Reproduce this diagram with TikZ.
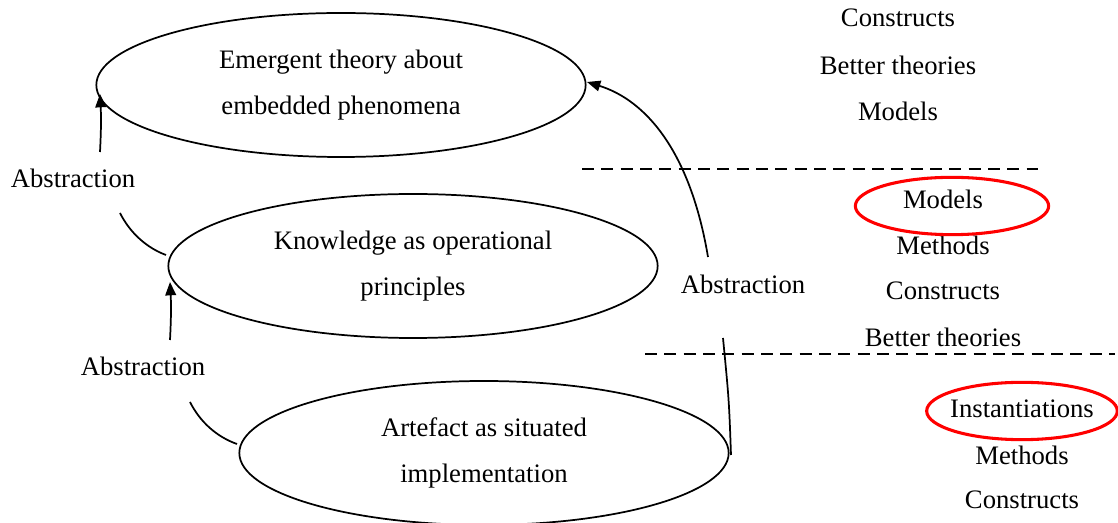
\documentclass[tikz,border=0pt]{standalone}
\usepackage{fontspec}
\setmainfont{Liberation Serif}
\usetikzlibrary{shapes.geometric,arrows.meta}
\begin{document}
\begin{tikzpicture}[x=0.75pt,y=-0.75pt,
  every node/.style={font=\fontsize{20pt}{24pt}\selectfont, inner sep=0pt},
  level/.style={draw, ellipse, line width=1.3pt, minimum width=367pt, minimum height=108pt, align=center, font=\fontsize{20pt}{34.5pt}\selectfont},
  mark ring/.style={draw=red, ellipse, line width=2.3pt},
  divider/.style={line width=1.8pt, dash pattern=on 9pt off 5.5pt},
  link/.style={line width=1.3pt},
  uparrow/.style={link, -{Triangle[length=10pt,width=8pt]}}
]
\useasboundingbox (0,0) rectangle (1118,523);

% the three levels of knowledge
\node[level] (theory) at (341,85) {Emergent theory about\\embedded phenomena};
\node[level] (know) at (413,266) {Knowledge as operational\\principles};
\node[level] (art) at (484,453) {Artefact as situated\\implementation};

% abstraction labels
\node (abs1) at (73,178) {Abstraction};
\node (abs2) at (143,366) {Abstraction};
\node (abs3) at (743,284) {Abstraction};

% connector end points
\coordinate (a1s) at (100,152);
\coordinate (a1e) at (100,94);
\coordinate (l1s) at (120,213);
\coordinate (l1e) at (166,255);
\coordinate (a2s) at (170,340);
\coordinate (a2e) at (170,282);
\coordinate (l2s) at (190,402);
\coordinate (l2e) at (237,444);
\coordinate (a3s) at (708,257);
\coordinate (a3e) at (587,82);
\coordinate (l3s) at (723,338);
\coordinate (l3e) at (731,455);

\draw[uparrow] (a1s) to[bend right=3] (a1e);
\draw[link] (l1s) .. controls (130,233) and (147,248) .. (l1e);
\draw[uparrow] (a2s) to[bend right=3] (a2e);
\draw[link] (l2s) .. controls (200,422) and (217,437) .. (l2e);
\draw[uparrow] (a3s) .. controls (690,150) and (645,100) .. (a3e);
\draw[link] (l3s) .. controls (729,400) .. (l3e);

% outputs per level
\node (t1) at (898,18) {Constructs};
\node (t2) at (898,65) {Better theories};
\node (t3) at (898,111) {Models};

\coordinate (d1a) at (582,169);
\coordinate (d1b) at (1038,169);
\draw[divider] (d1a) -- (d1b);

\node (k1) at (943,199) {Models};
\node (k2) at (943,245) {Methods};
\node (k3) at (943,291) {Constructs};
\node (k4) at (943,337) {Better theories};
\node[mark ring, minimum width=145pt, minimum height=43pt] (r1) at (952,206) {};

\coordinate (d2a) at (645,354);
\coordinate (d2b) at (1115,354);
\draw[divider] (d2a) -- (d2b);

\node (i1) at (1022,409) {Instantiations};
\node (i2) at (1022,455) {Methods};
\node (i3) at (1022,500) {Constructs};
\node[mark ring, minimum width=143pt, minimum height=43pt] (r2) at (1022,411) {};
\end{tikzpicture}
\end{document}
